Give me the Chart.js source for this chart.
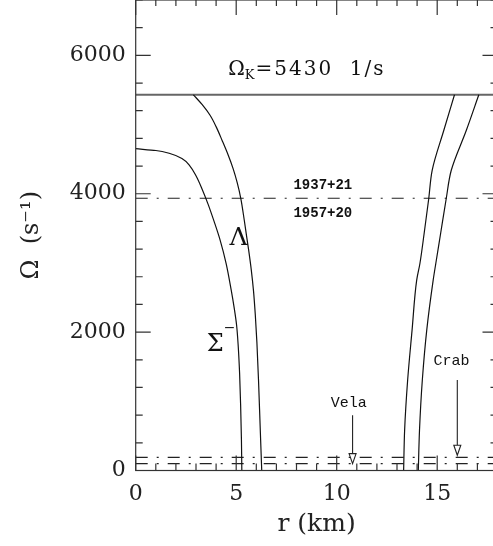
<!DOCTYPE html>
<html>
<head>
<meta charset="utf-8">
<script src="https://cdn.jsdelivr.net/npm/chart.js@4.4.0/dist/chart.umd.min.js"></script>
<style>
  html, body { margin: 0; padding: 0; background: #fff; overflow: hidden; }
  #wrap { width: 493px; height: 546px; overflow: hidden; }
  canvas { display: block; }
</style>
</head>
<body>
<div id="wrap"><canvas id="rotChart" width="498" height="546"></canvas></div>
<script>
// ===== DATA =====
const xTicks = [0, 5, 10, 15];
const yTicks = [0, 2000, 4000, 6000];

const omegaKepler = 5430;
const omegaMsp = 3935;   // 1937+21 / 1957+20
const omegaCrab = 190;
const omegaVela = 100;

// Sigma- curve
const sigmaR     = [0,    1.0,  1.7,  2.3,  2.7,  3.0,  3.3,  3.6,  3.9,  4.2,  4.5,  4.75, 4.9,  5.02, 5.1,  5.17, 5.22, 5.26, 5.28];
const sigmaOmega = [4651, 4625, 4581, 4510, 4400, 4260, 4070, 3850, 3600, 3330, 2990, 2610, 2350, 2100, 1800, 1400, 950,  450,  0];

// Lambda curve
const lambdaR     = [2.87, 3.3,  3.7,  4.0,  4.3,  4.6,  4.85, 5.05, 5.23, 5.4,  5.52, 5.62, 5.75, 5.86, 5.95, 6.03, 6.11, 6.19, 6.27];
const lambdaOmega = [5430, 5290, 5134, 4970, 4770, 4560, 4360, 4160, 3930, 3620, 3380, 3184, 2900, 2600, 2250, 1850, 1307, 650,  0];

// outer-radius curves
const innerR     = [15.86, 15.33, 14.75, 14.58, 14.35, 14.14, 13.98, 13.75, 13.53, 13.38, 13.33];
const innerOmega = [5430,  4917,  4339,  3931,  3425,  2992,  2751,  2029,  1307,  585,   0];
const outerR     = [17.07, 16.45, 15.70, 15.45, 15.17, 14.93, 14.80, 14.48, 14.26, 14.12, 14.06];
const outerOmega = [5430,  4917,  4339,  3931,  3425,  2992,  2751,  2029,  1307,  585,   0];

// pulsar arrows: r, Omega at top, Omega at tip
const velaArrow = [10.79, 800, omegaVela];
const crabArrow = [16.0, 1307, 220];

// ===== HELPERS =====
const toXY = (xs, ys) => xs.map((v, i) => ({ x: v, y: ys[i] }));
const hLine = (val) => [{ x: 0, y: val }, { x: 18, y: val }];

const curveStyle = {
  indexAxis: "y", pointRadius: 0, borderColor: "#111", borderWidth: 1.2,
  cubicInterpolationMode: "monotone", fill: false,
};
const dashStyle = {
  pointRadius: 0, borderColor: "#222", borderWidth: 1.1, tension: 0,
  borderDash: [12, 9, 2, 9],
};

const serif = "'DejaVu Serif', serif";
const mono = "'Liberation Mono', monospace";

// ===== FRAME + INWARD TICKS =====
const framePlugin = {
  id: "frame",
  afterDraw(chart) {
    const { ctx, chartArea: a, scales: { x, y } } = chart;
    ctx.save();
    ctx.strokeStyle = "#333";
    ctx.lineWidth = 1.2;
    ctx.strokeRect(a.left, a.top, a.right - a.left, a.bottom - a.top);
    ctx.beginPath();
    for (let v = 0; v <= 18; v += 1) {
      const px = x.getPixelForValue(v);
      const major = xTicks.includes(v);
      ctx.moveTo(px, a.bottom); ctx.lineTo(px, a.bottom - (major ? 15 : 7));
      ctx.moveTo(px, a.top); ctx.lineTo(px, a.top + (major ? 15 : 6));
    }
    for (let v = 0; v <= 6800; v += 400) {
      const py = y.getPixelForValue(v);
      const len = yTicks.includes(v) ? 15 : 7;
      ctx.moveTo(a.left, py); ctx.lineTo(a.left + len, py);
      ctx.moveTo(a.right, py); ctx.lineTo(a.right - len, py);
    }
    ctx.stroke();
    ctx.restore();
  },
};

// ===== TEXT LABELS + ARROWS =====
const labelPlugin = {
  id: "labels",
  afterDatasetsDraw(chart) {
    const { ctx, scales: { x, y } } = chart;
    ctx.save();
    ctx.fillStyle = "#111";
    ctx.strokeStyle = "#222";
    ctx.textBaseline = "alphabetic";

    // Omega_K label
    let px = x.getPixelForValue(4.6);
    const py = y.getPixelForValue(5711);
    ctx.font = "20px " + serif;
    ctx.letterSpacing = "0px";
    ctx.fillText("Ω", px, py);
    px += ctx.measureText("Ω").width;
    ctx.font = "13px " + serif;
    ctx.fillText("K", px, py + 4);
    px += ctx.measureText("K").width + 1;
    ctx.font = "20px " + serif;
    ctx.letterSpacing = "2px";
    ctx.fillText("=5430  1/s", px, py);
    ctx.letterSpacing = "0px";

    // pulsar names
    ctx.textAlign = "center";
    ctx.textBaseline = "middle";
    ctx.font = "bold 14px " + mono;
    ctx.fillText("1937+21", x.getPixelForValue(9.31), y.getPixelForValue(4116));
    ctx.fillText("1957+20", x.getPixelForValue(9.31), y.getPixelForValue(3711));
    ctx.font = "15px " + mono;
    ctx.fillText("Vela", x.getPixelForValue(10.6), y.getPixelForValue(975));
    ctx.fillText("Crab", x.getPixelForValue(15.71), y.getPixelForValue(1581));

    // curve names
    ctx.font = "25px " + serif;
    ctx.fillText("Λ", x.getPixelForValue(5.11), y.getPixelForValue(3360));
    ctx.textAlign = "left";
    ctx.font = "24px " + serif;
    const sx = x.getPixelForValue(3.54);
    ctx.fillText("Σ", sx, y.getPixelForValue(1812));
    const sw = ctx.measureText("Σ").width;
    ctx.font = "14px " + serif;
    ctx.fillText("−", sx + sw, y.getPixelForValue(2058));

    // arrows
    ctx.lineWidth = 1.1;
    [velaArrow, crabArrow].forEach(([r, top, tip]) => {
      const ax = x.getPixelForValue(r);
      const ty = y.getPixelForValue(top);
      const tipY = y.getPixelForValue(tip);
      ctx.beginPath();
      ctx.moveTo(ax, ty);
      ctx.lineTo(ax, tipY - 10);
      ctx.stroke();
      ctx.beginPath();
      ctx.moveTo(ax - 3.5, tipY - 10);
      ctx.lineTo(ax + 3.5, tipY - 10);
      ctx.lineTo(ax, tipY);
      ctx.closePath();
      ctx.fillStyle = "#fff";
      ctx.fill();
      ctx.stroke();
      ctx.fillStyle = "#111";
    });
    ctx.restore();
  },
};

// ===== CHART =====
const ctx = document.getElementById("rotChart").getContext("2d");
new Chart(ctx, {
  type: "line",
  data: {
    datasets: [
      { ...curveStyle, data: toXY(sigmaR, sigmaOmega) },
      { ...curveStyle, data: toXY(lambdaR, lambdaOmega) },
      { ...curveStyle, data: toXY(innerR, innerOmega) },
      { ...curveStyle, data: toXY(outerR, outerOmega) },
      { pointRadius: 0, borderColor: "#666", borderWidth: 2, tension: 0, data: hLine(omegaKepler) },
      { ...dashStyle, data: hLine(omegaMsp) },
      { ...dashStyle, data: hLine(omegaCrab) },
      { ...dashStyle, data: hLine(omegaVela) },
    ],
  },
  options: {
    responsive: false,
    animation: false,
    devicePixelRatio: 1,
    layout: { padding: { top: 0, right: 0.5, left: 0, bottom: 0 } },
    plugins: { legend: { display: false }, tooltip: { enabled: false } },
    scales: {
      x: {
        type: "linear",
        min: 0,
        max: 18,
        afterFit: (s) => { s.height = 75.5; s.paddingLeft = 0; s.paddingRight = 0; },
        afterBuildTicks: (s) => { s.ticks = xTicks.map((v) => ({ value: v })); },
        grid: { display: false, drawTicks: false },
        border: { display: false },
        ticks: {
          color: "#222", padding: 10.5, maxRotation: 0, autoSkip: false,
          font: { family: serif, size: 22 },
          callback: (v) => String(v),
        },
        title: {
          display: true,
          text: "r (km)",
          color: "#222",
          font: { family: serif, size: 25 },
          padding: { top: 0, bottom: 6.6 },
        },
      },
      y: {
        type: "linear",
        min: 0,
        max: 6800,
        afterFit: (s) => { s.width = 135.7; s.paddingTop = 0; s.paddingBottom = 0; },
        afterBuildTicks: (s) => { s.ticks = yTicks.map((v) => ({ value: v })); },
        grid: { display: false, drawTicks: false },
        border: { display: false },
        ticks: {
          color: "#222", padding: 10, autoSkip: false,
          font: { family: serif, size: 22 },
          callback: (v) => String(v),
        },
        title: {
          display: true,
          text: "Ω  (s⁻¹)",
          color: "#222",
          font: { family: serif, size: 24 },
          padding: { top: 17.3, bottom: 0 },
        },
      },
    },
  },
  plugins: [framePlugin, labelPlugin],
});
</script>
</body>
</html>
